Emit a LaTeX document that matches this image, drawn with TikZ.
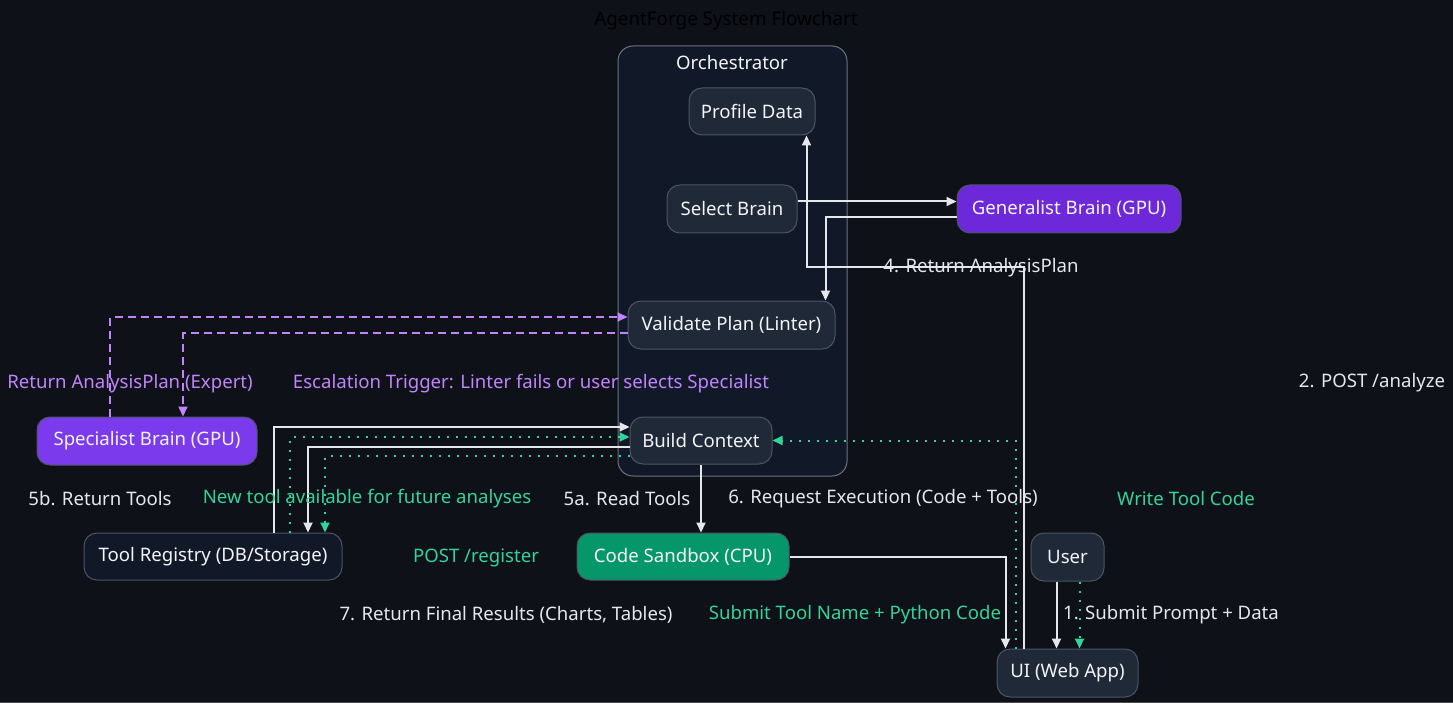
\documentclass[tikz,border=0pt]{standalone}
\usepackage{fontspec}
\setmainfont{Noto Sans}
\usetikzlibrary{arrows.meta,calc}
\definecolor{bg}{HTML}{0E1117}
\definecolor{nodefill}{HTML}{1F2937}
\definecolor{nodeedge}{HTML}{4B5563}
\definecolor{clusterfill}{HTML}{111827}
\definecolor{clusteredge}{HTML}{6B7280}
\definecolor{txt}{HTML}{F3F4F6}
\definecolor{linec}{HTML}{E5E7EB}
\definecolor{gline}{HTML}{34D399}
\definecolor{pline}{HTML}{C084FC}
\definecolor{genfill}{HTML}{6D28D9}
\definecolor{specfill}{HTML}{7C3AED}
\definecolor{sbfill}{HTML}{059669}
\definecolor{darkfill}{HTML}{111827}
\tikzset{
  box/.style={draw=nodeedge, fill=nodefill, rounded corners=13pt, text=txt,
    font=\fontsize{18.6}{22}\selectfont, line width=1pt, inner sep=0pt},
  lbl/.style={text=linec, font=\fontsize{18.6}{22}\selectfont, inner sep=0pt, yshift=-2pt},
  glbl/.style={lbl, text=gline},
  plbl/.style={lbl, text=pline},
  conn/.style={draw=linec, line width=2pt, -{Triangle[length=10pt,width=9pt]}},
  gconn/.style={draw=gline, line width=2pt, dash pattern=on 2pt off 7pt, -{Triangle[length=10pt,width=9pt]}},
  pconn/.style={draw=pline, line width=2pt, dash pattern=on 8pt off 5pt, -{Triangle[length=10pt,width=9pt]}}
}
\begin{document}
\begin{tikzpicture}[x=1pt,y=-1pt]
\useasboundingbox[fill=bg] (0,0) rectangle (1453,703);
\fill[gray!60!black] (0,702) rectangle (1453,703);
% title
\node[font=\fontsize{18.8}{22}\selectfont, text=black, inner sep=0pt, yshift=-1.5pt] (title) at (726,19) {AgentForge System Flowchart};
% cluster
\draw[draw=clusteredge, fill=clusterfill, rounded corners=15pt, line width=1pt] (618,46) rectangle (847,476);
\node[lbl, text=txt, yshift=-1pt] (orch) at (732,60) {Orchestrator};
% nodes
\node[box, minimum width=126pt, minimum height=47pt] (prof) at (752,111.5) {Profile Data};
\node[box, minimum width=130pt, minimum height=48pt] (sel) at (732,209) {Select Brain};
\node[box, fill=genfill, minimum width=224pt, minimum height=48pt] (gen) at (1069,209) {Generalist Brain (GPU)};
\node[box, minimum width=207pt, minimum height=48pt] (val) at (731.5,325) {Validate Plan (Linter)};
\node[box, minimum width=142pt, minimum height=47pt] (bc) at (701,440.5) {Build Context};
\node[box, fill=specfill, minimum width=220pt, minimum height=48pt] (spec) at (147,441) {Specialist Brain (GPU)};
\node[box, fill=darkfill, minimum width=258pt, minimum height=47pt] (tr) at (213,556.5) {Tool Registry (DB/Storage)};
\node[box, fill=sbfill, minimum width=212pt, minimum height=47pt] (sb) at (683,556.5) {Code Sandbox (CPU)};
\node[box, minimum width=73pt, minimum height=48pt] (user) at (1067.5,557) {User};
\node[box, minimum width=141pt, minimum height=48pt] (ui) at (1067.5,673) {UI (Web App)};
% edges
\draw[conn] ($(sel.east)+(0,-7.5)$) -- ($(gen.west)+(0,-7.5)$);
\draw[conn] ($(gen.west)+(0,8)$) -| ($(val.north east)+(-10,0)$);
\draw[conn] ($(ui.north)+(-44,0)$) |- ($(prof.south east)+(-9,132)$) -- ($(prof.south east)+(-9,0)$);
\draw[conn] ($(user.south)+(-11,0)$) -- ($(ui.north)+(-11,0)$);
\draw[gconn] ($(user.south)+(12,0)$) -- ($(ui.north)+(12,0)$);
\draw[conn] (sb.east) -| ($(ui.north)+(-62,0)$);
\draw[conn] (bc.south) -- (bc.south |- sb.north);
\draw[gconn] ($(ui.north)+(-52,0)$) |- (bc.east);
\draw[pconn] ($(val.west)+(0,8)$) -| ($(spec.north)+(36,0)$);
\draw[pconn] ($(spec.north)+(-37,0)$) |- ($(val.west)+(0,-8)$);
\draw[conn] ($(tr.north)+(61,0)$) |- ($(bc.west)+(0,-13.5)$);
\draw[gconn] ($(tr.north)+(77,0)$) |- ($(bc.west)+(0,-3.5)$);
\draw[conn] ($(bc.west)+(0,6.5)$) -| ($(tr.north)+(95,0)$);
\draw[gconn] ($(bc.west)+(0,15.5)$) -| ($(tr.north)+(112,0)$);
% labels
\node[lbl] (l4) at (981,266) {4. Return AnalysisPlan};
\node[lbl] (l2) at (1372,381) {2. POST /analyze};
\node[plbl] (lret) at (130,382) {Return AnalysisPlan (Expert)};
\node[plbl] (lesc) at (531,382) {Escalation Trigger: Linter fails or user selects Specialist};
\node[lbl] (l5b) at (100,497) {5b. Return Tools};
\node[glbl] (lnew) at (367,497) {New tool available for future analyses};
\node[lbl] (l5a) at (627,497) {5a. Read Tools};
\node[lbl] (l6) at (883,497) {6. Request Execution (Code + Tools)};
\node[glbl] (lwrite) at (1186,497) {Write Tool Code};
\node[glbl] (lpost) at (476,556) {POST /register};
\node[lbl] (l7) at (506,613) {7. Return Final Results (Charts, Tables)};
\node[glbl] (lsub) at (855,613) {Submit Tool Name + Python Code};
\node[lbl] (l1) at (1171,613) {1. Submit Prompt + Data};
\end{tikzpicture}
\end{document}
